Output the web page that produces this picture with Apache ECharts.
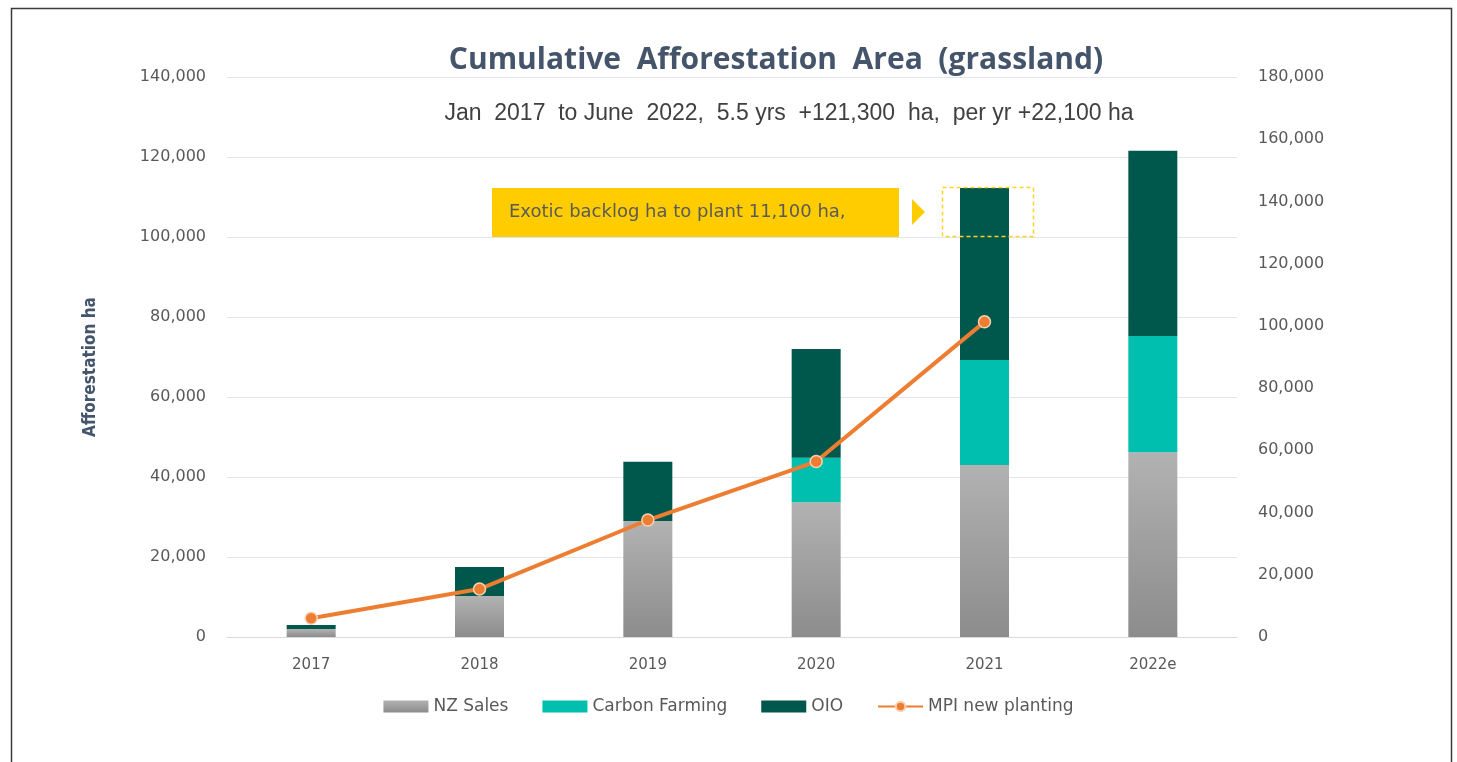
<!DOCTYPE html>
<html>
<head>
<meta charset="utf-8">
<script src="https://cdn.jsdelivr.net/npm/echarts@6/dist/echarts.min.js"></script>
<style>
html,body{margin:0;padding:0;background:#fff;}
#chart{width:1457px;height:762px;}
</style>
</head>
<body>
<div id="chart"></div>
<script>
const categories = ['2017', '2018', '2019', '2020', '2021', '2022e'];
const nzSales = [2000, 10250, 29000, 33700, 43000, 46200];
const carbonFarming = [0, 0, 0, 11100, 26250, 29050];
const oio = [1000, 7250, 14800, 27200, 43000, 46300];
const mpiNewPlanting = [6000, 15400, 37600, 56400, 101300, null];

const chart = echarts.init(document.getElementById('chart'));
const labelFont = 'DejaVu Sans';
const option = {
  backgroundColor: '#fff',
  animation: false,
  grid: { left: 227, right: 220, top: 77, bottom: 125 },
  legend: {
    bottom: 42,
    left: 'center',
    itemWidth: 45,
    itemHeight: 12,
    itemGap: 34,
    textStyle: { fontFamily: labelFont, fontSize: 17, color: '#595959' },
    data: [
      { name: 'NZ Sales', icon: 'rect' },
      { name: 'Carbon Farming', icon: 'rect' },
      { name: 'OIO', icon: 'rect' },
      { name: 'MPI new planting' }
    ]
  },
  xAxis: {
    type: 'category',
    data: categories,
    axisTick: { show: false },
    axisLine: { lineStyle: { color: '#D9D9D9', width: 1 } },
    axisLabel: { fontFamily: labelFont, fontSize: 15, color: '#595959', margin: 21 }
  },
  yAxis: [
    {
      type: 'value', min: 0, max: 140000, interval: 20000,
      axisLine: { show: false }, axisTick: { show: false },
      splitLine: { lineStyle: { color: '#E1E5EC', width: 1 } },
      axisLabel: {
        fontFamily: labelFont, fontSize: 16, color: '#595959', margin: 21,
        formatter: v => v.toLocaleString('en-US')
      }
    },
    {
      type: 'value', min: 0, max: 180000, interval: 20000,
      axisLine: { show: false }, axisTick: { show: false },
      splitLine: { show: false },
      axisLabel: {
        fontFamily: labelFont, fontSize: 16, color: '#595959', margin: 21,
        formatter: v => v.toLocaleString('en-US')
      }
    }
  ],
  series: [
    {
      name: 'NZ Sales', type: 'bar', stack: 'a', barWidth: 49, data: nzSales,
      itemStyle: {
        color: new echarts.graphic.LinearGradient(0, 0, 0, 1, [
          { offset: 0, color: '#B2B2B2' }, { offset: 1, color: '#8C8C8C' }
        ])
      }
    },
    {
      name: 'Carbon Farming', type: 'bar', stack: 'a', data: carbonFarming,
      itemStyle: { color: '#00BFAF' }
    },
    {
      name: 'OIO', type: 'bar', stack: 'a', data: oio,
      itemStyle: { color: '#00574B' }
    },
    {
      name: 'MPI new planting', type: 'line', yAxisIndex: 1, data: mpiNewPlanting,
      symbol: 'circle', symbolSize: 12,
      lineStyle: { color: '#ED7D31', width: 4 },
      itemStyle: { color: '#ED7D31', borderColor: '#F8D2B8', borderWidth: 1.5 },
      z: 5
    }
  ],
  graphic: [
    {
      type: 'rect', silent: true,
      shape: { x: 11.5, y: 8.5, width: 1440, height: 800 },
      style: { fill: 'none', stroke: '#3A3A3A', lineWidth: 1.5 }
    },
    {
      type: 'text',
      style: {
        text: 'Cumulative  Afforestation  Area  (grassland)',
        x: 776, y: 60, textAlign: 'center', textVerticalAlign: 'middle',
        font: 'bold 30px "Open Sans"', fill: '#44546A'
      }
    },
    {
      type: 'text',
      style: {
        text: 'Jan  2017  to June  2022,  5.5 yrs  +121,300  ha,  per yr +22,100 ha',
        x: 789, y: 114, textAlign: 'center', textVerticalAlign: 'middle',
        font: '23px "Liberation Sans"', fill: '#404040'
      }
    },
    {
      type: 'text',
      style: {
        text: 'Afforestation ha',
        x: 0, y: 0, textAlign: 'center', textVerticalAlign: 'middle',
        font: 'bold 17px "DejaVu Sans Condensed", "DejaVu Sans"', fill: '#44546A'
      },
      x: 91, y: 367, rotation: Math.PI / 2
    },
    {
      type: 'rect', silent: true,
      shape: { x: 492, y: 188, width: 407, height: 49 },
      style: { fill: '#FFCC00' }
    },
    {
      type: 'text',
      style: {
        text: 'Exotic backlog ha to plant 11,100 ha,',
        x: 509, y: 212, textAlign: 'left', textVerticalAlign: 'middle',
        font: '18px "DejaVu Sans"', fill: '#5A5A5A'
      }
    },
    {
      type: 'polygon', silent: true,
      shape: { points: [[912, 199], [925, 212], [912, 225]] },
      style: { fill: '#FFCC00' }
    },
    {
      type: 'rect', silent: true, z: 10,
      shape: { x: 942.5, y: 187.5, width: 91, height: 49 },
      style: { fill: 'none', stroke: '#FFD320', lineWidth: 1.5, lineDash: [4, 3] }
    }
  ]
};
chart.setOption(option);
</script>
</body>
</html>
